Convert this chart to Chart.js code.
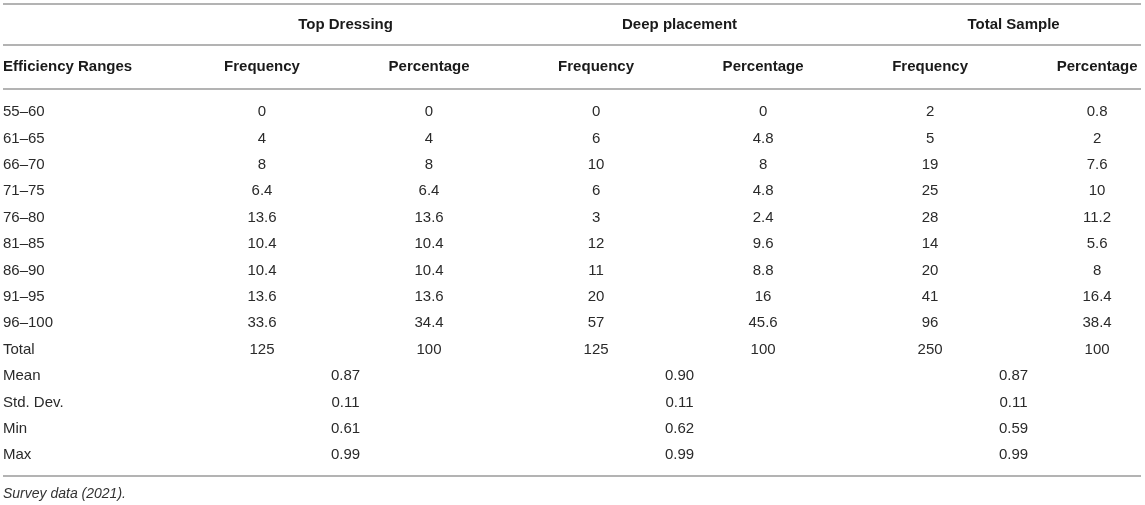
<!DOCTYPE html>
<html>
<head>
<meta charset="utf-8">
<script src="https://cdn.jsdelivr.net/npm/chart.js@4/dist/chart.umd.min.js"></script>
<style>
  html, body { margin: 0; padding: 0; background: #ffffff; }
  #wrap { width: 1145px; height: 505px; }
</style>
</head>
<body>
<div id="wrap"><canvas id="c" width="1145" height="505"></canvas></div>
<script>
// ---------- data ----------
const groupHeaders = ['Top Dressing', 'Deep placement', 'Total Sample'];
const columnHeaders = ['Efficiency Ranges', 'Frequency', 'Percentage', 'Frequency', 'Percentage', 'Frequency', 'Percentage'];
const ranges = ['55–60', '61–65', '66–70', '71–75', '76–80', '81–85', '86–90', '91–95', '96–100', 'Total'];
const topFreq  = [0, 4, 8, 6.4, 13.6, 10.4, 10.4, 13.6, 33.6, 125];
const topPct   = [0, 4, 8, 6.4, 13.6, 10.4, 10.4, 13.6, 34.4, 100];
const deepFreq = [0, 6, 10, 6, 3, 12, 11, 20, 57, 125];
const deepPct  = [0, 4.8, 8, 4.8, 2.4, 9.6, 8.8, 16, 45.6, 100];
const totFreq  = [2, 5, 19, 25, 28, 14, 20, 41, 96, 250];
const totPct   = [0.8, 2, 7.6, 10, 11.2, 5.6, 8, 16.4, 38.4, 100];
const statLabels = ['Mean', 'Std. Dev.', 'Min', 'Max'];
const topStats  = [0.87, 0.11, 0.61, 0.99];
const deepStats = [0.90, 0.11, 0.62, 0.99];
const totStats  = [0.87, 0.11, 0.59, 0.99];
const footnote = 'Survey data (2021).';

// ---------- layout (scale coordinates) ----------
const X_MIN = -0.551, X_MAX = 6.263;          // column index space
const Y_MIN = -4.09, Y_MAX = 13.79;            // row index space
const GROUP_ROW = -3.3, HEADER_ROW = -1.7;
const RULES = [-4.09, -2.54, -0.87, 13.79];    // horizontal rules
const FONT = '"Liberation Sans", Arial, Helvetica, sans-serif';
const BODY_COLOR = '#2a2a2a', HEAD_COLOR = '#1a1a1a';

const valueColumns = [topFreq, topPct, deepFreq, deepPct, totFreq, totPct];
const statColumns = [topStats, deepStats, totStats];

const datasets = [];
function addCells(points, texts, opts) {
  datasets.push(Object.assign({
    data: points, texts: texts, pointRadius: 0, pointHoverRadius: 0,
    showLine: false, align: 'center', bold: false
  }, opts || {}));
}
// group headers
addCells(groupHeaders.map((g, i) => ({ x: 1.5 + 2 * i, y: GROUP_ROW })), groupHeaders, { bold: true });
// column headers
addCells(columnHeaders.map((h, i) => ({ x: i === 0 ? X_MIN : i, y: HEADER_ROW })), columnHeaders,
  { bold: true, alignFirstLeft: true });
// row labels
const rowLabels = ranges.concat(statLabels);
addCells(rowLabels.map((l, r) => ({ x: X_MIN, y: r })), rowLabels, { align: 'left' });
// value columns
valueColumns.forEach((col, ci) => {
  addCells(col.map((v, r) => ({ x: ci + 1, y: r })), col.map(v => String(v)));
});
// stat columns (merged cells)
statColumns.forEach((col, gi) => {
  addCells(col.map((v, k) => ({ x: 1.5 + 2 * gi, y: ranges.length + k })), col.map(v => v.toFixed(2)));
});

const cellText = {
  id: 'cellText',
  afterDatasetsDraw(chart) {
    const ctx = chart.ctx;
    ctx.save();
    ctx.textBaseline = 'middle';
    chart.data.datasets.forEach((ds, di) => {
      const meta = chart.getDatasetMeta(di);
      ctx.font = (ds.bold ? 'bold ' : '') + '15px ' + FONT;
      ctx.fillStyle = ds.bold ? HEAD_COLOR : BODY_COLOR;
      meta.data.forEach((el, i) => {
        const left = ds.align === 'left' || (ds.alignFirstLeft && i === 0);
        ctx.textAlign = left ? 'left' : 'center';
        ctx.fillText(ds.texts[i], el.x, el.y);
      });
    });
    ctx.restore();
  }
};

new Chart(document.getElementById('c'), {
  type: 'scatter',
  data: { datasets: datasets },
  options: {
    responsive: false,
    animation: false,
    events: [],
    layout: { padding: { top: 4, left: 3, right: 4, bottom: 0 } },
    plugins: {
      legend: { display: false },
      tooltip: { enabled: false },
      title: {
        display: true,
        position: 'bottom',
        align: 'start',
        text: footnote,
        color: '#333333',
        font: { family: FONT, size: 14, style: 'italic', weight: 'normal', lineHeight: 1.2 },
        padding: { top: 10, bottom: 2 }
      }
    },
    scales: {
      x: { type: 'linear', display: false, min: X_MIN, max: X_MAX },
      y: {
        type: 'linear', reverse: true, min: Y_MIN, max: Y_MAX,
        afterBuildTicks: (scale) => { scale.ticks = RULES.map(v => ({ value: v })); },
        ticks: { display: false },
        border: { display: false },
        grid: { color: '#b3b3b3', lineWidth: 2, drawTicks: false }
      }
    }
  },
  plugins: [cellText]
});
</script>
</body>
</html>
